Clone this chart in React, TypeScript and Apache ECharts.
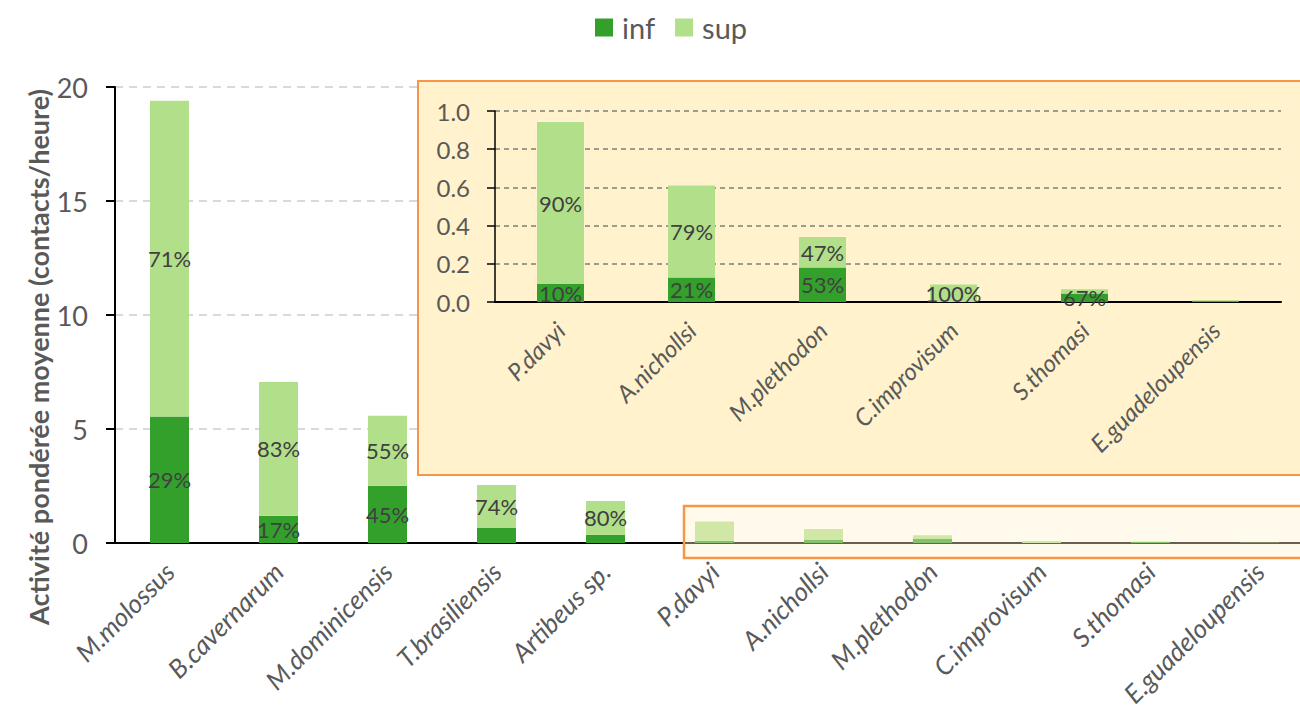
import React, { useEffect, useRef } from "react";
import * as echarts from "echarts";

const categories = [
  "M.molossus",
  "B.cavernarum",
  "M.dominicensis",
  "T.brasiliensis",
  "Artibeus sp.",
  "P.davyi",
  "A.nichollsi",
  "M.plethodon",
  "C.improvisum",
  "S.thomasi",
  "E.guadeloupensis",
];
const infValues = [5.55, 1.2, 2.51, 0.66, 0.36, 0.094, 0.128, 0.18, 0, 0.045, 0.003];
const supValues = [13.85, 5.86, 3.07, 1.88, 1.48, 0.848, 0.482, 0.16, 0.092, 0.022, 0.006];

const mainInfLabels = ["29%", "17%", "45%", "", "", "", "", "", "", "", ""];
const mainSupLabels = ["71%", "83%", "55%", "74%", "80%", "", "", "", "", "", ""];

const insetStart = 5;
const insetInfLabels = ["10%", "21%", "53%", "", "67%", ""];
const insetSupLabels = ["90%", "79%", "47%", "100%", "", ""];

const mainTicks = { min: 0, max: 20, interval: 5 };
const insetTicks = { min: 0, max: 1, interval: 0.2 };

const FONT = "Lato, 'Open Sans', sans-serif";
const INF_COLOR = "#33a02c";
const SUP_COLOR = "#b2df8a";
const AXIS_TEXT = "#595959";
const LABEL_TEXT = "#404040";

function withLabels(values: number[], labels: string[]) {
  return values.map((v, i) => ({
    value: v,
    label: { show: !!labels[i], formatter: labels[i] || "" },
  }));
}

export default function App() {
  const ref = useRef<HTMLDivElement>(null);

  useEffect(() => {
    if (!ref.current) return;
    const chart = echarts.init(ref.current, null, { renderer: "svg" });
    const insetCats = categories.slice(insetStart);

    const barLabel = {
      position: "inside",
      color: LABEL_TEXT,
      fontSize: 22,
      fontFamily: FONT,
    };

    chart.setOption({
      animation: false,
      textStyle: { fontFamily: FONT },
      legend: {
        data: ["inf", "sup"],
        top: 8,
        left: 590,
        icon: "rect",
        itemWidth: 18,
        itemHeight: 18,
        itemGap: 20,
        textStyle: { fontSize: 29, color: AXIS_TEXT, fontFamily: FONT, padding: [0, 0, 0, 4] },
      },
      grid: [
        { left: 115, top: 87, width: 1199, height: 456, outerBoundsMode: "none", containLabel: false },
        { left: 495, top: 111, width: 786, height: 191, outerBoundsMode: "none", containLabel: false },
      ],
      xAxis: [
        {
          type: "category",
          gridIndex: 0,
          data: categories,
          axisLine: { lineStyle: { color: "#000", width: 2 } },
          axisTick: { show: false },
          axisLabel: {
            rotate: 45,
            interval: 0,
            margin: 24,
            fontSize: 26,
            fontStyle: "italic",
            color: AXIS_TEXT,
            fontFamily: FONT,
          },
        },
        {
          type: "category",
          gridIndex: 1,
          data: insetCats,
          z: 5,
          axisLine: { lineStyle: { color: "#000", width: 2 } },
          axisTick: { show: false },
          axisLabel: {
            rotate: 45,
            interval: 0,
            margin: 24,
            fontSize: 24,
            fontStyle: "italic",
            color: AXIS_TEXT,
            fontFamily: FONT,
          },
        },
      ],
      yAxis: [
        {
          type: "value",
          gridIndex: 0,
          min: mainTicks.min,
          max: mainTicks.max,
          interval: mainTicks.interval,
          axisLine: { show: true, lineStyle: { color: "#000", width: 2 } },
          axisTick: { show: true, length: 9, lineStyle: { color: "#000", width: 2 } },
          axisLabel: { margin: 27, fontSize: 27, color: AXIS_TEXT, fontFamily: FONT },
          splitLine: { lineStyle: { color: "#d9d9d9", width: 2, type: [8, 6] } },
        },
        {
          type: "value",
          gridIndex: 1,
          min: insetTicks.min,
          max: insetTicks.max,
          interval: insetTicks.interval,
          z: 5,
          axisLine: { show: true, lineStyle: { color: "#000", width: 1.5 } },
          axisTick: { show: true, length: 8, lineStyle: { color: "#000", width: 1.5 } },
          axisLabel: {
            margin: 25,
            fontSize: 24,
            color: AXIS_TEXT,
            fontFamily: FONT,
            formatter: (v: number) => v.toFixed(1),
          },
          splitLine: { lineStyle: { color: "#7f7f7f", width: 1.5, type: [5, 4] } },
        },
      ],
      series: [
        {
          name: "inf",
          type: "bar",
          stack: "main",
          xAxisIndex: 0,
          yAxisIndex: 0,
          barWidth: 39,
          itemStyle: { color: INF_COLOR },
          label: barLabel,
          data: withLabels(infValues, mainInfLabels),
        },
        {
          name: "sup",
          type: "bar",
          stack: "main",
          xAxisIndex: 0,
          yAxisIndex: 0,
          barWidth: 39,
          itemStyle: { color: SUP_COLOR },
          label: barLabel,
          data: withLabels(supValues, mainSupLabels),
        },
        {
          name: "inf",
          type: "bar",
          stack: "inset",
          xAxisIndex: 1,
          yAxisIndex: 1,
          barWidth: 47,
          z: 6,
          itemStyle: { color: INF_COLOR },
          label: barLabel,
          data: withLabels(infValues.slice(insetStart), insetInfLabels),
        },
        {
          name: "sup",
          type: "bar",
          stack: "inset",
          xAxisIndex: 1,
          yAxisIndex: 1,
          barWidth: 47,
          z: 6,
          itemStyle: { color: SUP_COLOR },
          label: barLabel,
          data: withLabels(supValues.slice(insetStart), insetSupLabels),
        },
      ],
      graphic: [
        {
          type: "rect",
          z: 1,
          shape: { x: 418, y: 81, width: 900, height: 394 },
          style: { fill: "#fff2cc", stroke: "#f79646", lineWidth: 2 },
        },
        {
          type: "rect",
          z: 20,
          shape: { x: 684, y: 506, width: 700, height: 52 },
          style: { fill: "rgba(255,242,204,0.4)", stroke: "#f79646", lineWidth: 2.5 },
        },
        {
          type: "text",
          z: 20,
          x: 38,
          y: 357,
          rotation: Math.PI / 2,
          style: {
            text: "Activité pondérée moyenne (contacts/heure)",
            fontSize: 27,
            fontWeight: "bold",
            fontFamily: FONT,
            fill: AXIS_TEXT,
            align: "center",
            verticalAlign: "middle",
          },
        },
      ],
    });

    return () => chart.dispose();
  }, []);

  return (
    <div
      ref={ref}
      style={{ position: "absolute", left: 0, top: 0, width: 1300, height: 717, background: "#fff" }}
    />
  );
}
